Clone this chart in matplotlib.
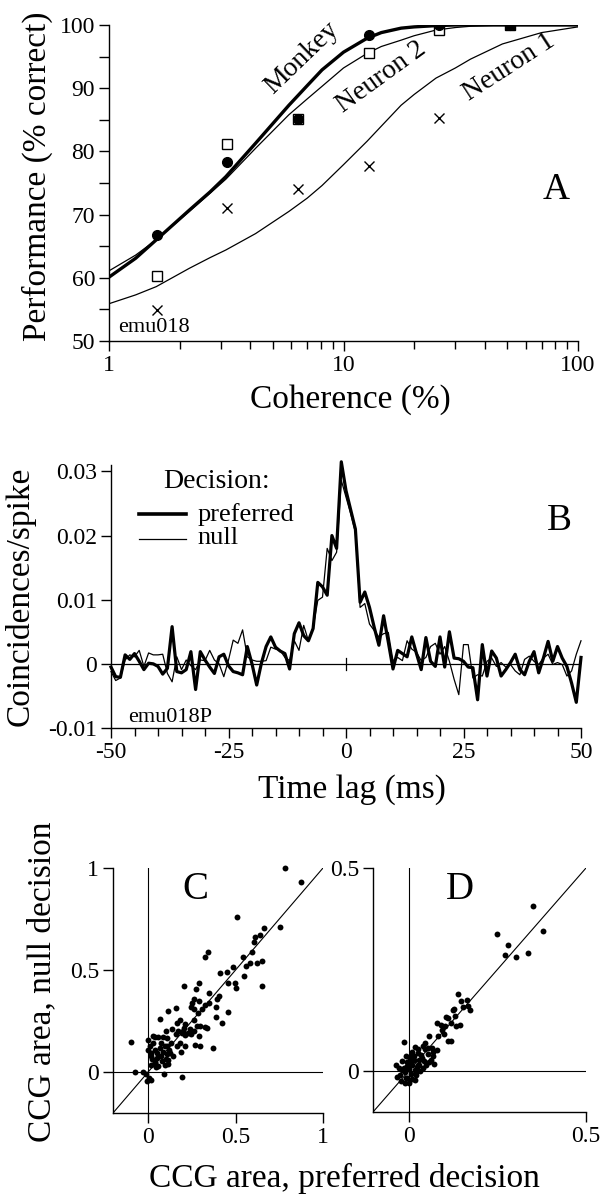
import matplotlib
matplotlib.use("Agg")
import matplotlib.pyplot as plt

plt.rcParams['font.family'] = ['Liberation Serif', 'DejaVu Serif']
plt.rcParams['axes.linewidth'] = 1.0

# ---------------- Panel A data ----------------
coherence = [1.6, 3.2, 6.4, 12.8, 25.6, 51.2]
monkey_pts = [66.8, 78.4, 85.1, 98.4, 100.0, 100.0]
neuron2_pts = [60.3, 81.2, 85.1, 95.6, 99.2, 100.0]
neuron1_pts = [54.9, 71.1, 74.0, 77.7, 85.3, 100.0]

curve_c = [1, 1.3, 1.59, 2.2, 2.7, 3.15, 4.22, 5.85, 7.0, 8.1, 10, 12.6, 14.5, 17.6, 20, 24.8, 30, 34.8, 47.6, 70, 100]
monkey_fit = [60.1, 63.1, 66.0, 70.7, 73.6, 76.0, 81.3, 87.3, 90.4, 92.9, 95.7, 97.9, 98.8, 99.5, 99.7, 99.9, 100, 100, 100, 100, 100]
neuron2_fit = [61.1, 63.6, 66.0, 70.5, 73.4, 75.6, 80.5, 85.8, 88.3, 90.3, 93.2, 95.5, 96.6, 97.6, 98.3, 99.2, 99.6, 99.8, 100, 100, 100]
neuron1_fit = [55.9, 57.3, 58.6, 61.5, 63.2, 64.4, 67.0, 70.5, 72.6, 74.6, 77.9, 81.6, 84.0, 87.3, 89.0, 91.6, 93.2, 94.6, 97.0, 98.8, 99.7]

# ---------------- Panel B data ----------------
lags = list(range(-50, 51))
ccg_preferred = [
    -0.0005, -0.0020, -0.0021, 0.0014, 0.0007, 0.0016, 0.0004, -0.0009, 0.0001, 0.0000,
    -0.0004, -0.0016, -0.0007, 0.0058, -0.0012, -0.0014, -0.0009, 0.0019, -0.0040, 0.0019,
    0.0006, -0.0005, -0.0015, 0.0011, 0.0015, -0.0003, -0.0012, -0.0014, -0.0017, 0.0027,
    0.0000, -0.0033, 0.0001, 0.0027, 0.0042, 0.0026, 0.0020, 0.0016, -0.0008, 0.0047,
    0.0064, 0.0044, 0.0036, 0.0055, 0.0127, 0.0120, 0.0107, 0.0200, 0.0180, 0.0315,
    0.0270, 0.0240, 0.0210, 0.0096, 0.0112, 0.0088, 0.0057, 0.0029, 0.0075, 0.0034,
    -0.0008, 0.0021, 0.0016, 0.0011, 0.0042, 0.0016, -0.0009, 0.0041, 0.0004, -0.0004,
    0.0042, -0.0005, 0.0050, 0.0009, 0.0008, 0.0004, -0.0005, -0.0006, -0.0056, 0.0030,
    -0.0019, 0.0020, 0.0009, -0.0019, -0.0009, 0.0002, 0.0015, -0.0009, -0.0017, 0.0004,
    0.0019, -0.0014, 0.0009, 0.0035, 0.0004, 0.0027, 0.0009, -0.0004, -0.0030, -0.0060,
    0.0010]
ccg_null = [
    -0.0012, -0.0026, -0.0022, 0.0006, 0.0014, 0.0011, 0.0021, -0.0004, 0.0017, 0.0014,
    0.0014, 0.0015, -0.0015, -0.0028, 0.0011, -0.0009, 0.0006, -0.0003, -0.0009, 0.0006,
    0.0005, 0.0021, 0.0006, 0.0000, -0.0020, 0.0006, 0.0037, 0.0032, 0.0053, 0.0011,
    0.0006, 0.0004, 0.0004, 0.0005, 0.0026, 0.0023, 0.0021, 0.0010, 0.0005, 0.0036,
    0.0021, 0.0060, 0.0036, 0.0057, 0.0099, 0.0104, 0.0180, 0.0161, 0.0174, 0.0286,
    0.0260, 0.0234, 0.0205, 0.0088, 0.0094, 0.0062, 0.0052, 0.0042, 0.0047, 0.0049,
    0.0005, 0.0010, 0.0005, 0.0036, 0.0023, 0.0018, 0.0005, 0.0010, 0.0027, 0.0032,
    0.0015, 0.0027, 0.0004, -0.0024, -0.0048, 0.0030, 0.0030, -0.0022, -0.0017, -0.0019,
    0.0004, 0.0009, -0.0004, 0.0002, -0.0005, -0.0001, -0.0011, -0.0017, 0.0007, 0.0012,
    0.0004, -0.0001, 0.0009, 0.0015, -0.0001, 0.0002, -0.0001, -0.0019, -0.0011, 0.0015,
    0.0036]

# ---------------- Panel C data ----------------
c_pref = [0.78, 0.873, 0.507, 0.757, 0.661, 0.613, 0.642, 0.603, 0.343, 0.324,
          0.593, 0.54, 0.651, 0.582, 0.62, 0.487, 0.41, 0.549, 0.459, 0.495,
          0.651, 0.505, 0.289, 0.206, 0.275, 0.347, 0.264, 0.395, 0.25, 0.328,
          0.245, 0.389, 0.347, 0.308, 0.158, 0.116, 0.459, 0.389, 0.285, 0.067,
          0.183, 0.264, 0.424, 0.299, 0.328, 0.168, 0.208, 0.241, 0.135, 0.10,
          0.193, 0.231, 0.212, 0.247, 0.16, 0.039, 0.058, 0.087, 0.27, 0.295,
          0.372, 0.212, 0.131, 0.119, 0.096, 0.0, 0.029, -0.096, 0.0, 0.019,
          0.039, 0.067, 0.087, 0.106, 0.125, 0.145, 0.189, 0.023, 0.054, 0.081,
          0.10, 0.039, 0.019, 0.048, 0.096, 0.116, -0.077, -0.029, -0.01, 0.004,
          0.015, -0.004, 0.092, 0.197, 0.01, 0.029, 0.077, 0.106, 0.173, 0.212,
          0.202, 0.26, 0.279, 0.019, 0.054, 0.077, 0.116, 0.039, 0.26, 0.289,
          0.183, 0.164, 0.289, 0.337, 0.106, 0.058, 0.559, 0.453, 0.405]
c_null = [1.0, 0.93, 0.76, 0.71, 0.707, 0.66, 0.67, 0.636, 0.59, 0.562,
          0.587, 0.562, 0.546, 0.534, 0.533, 0.513, 0.485, 0.469, 0.439, 0.436,
          0.423, 0.41, 0.439, 0.423, 0.407, 0.39, 0.357, 0.357, 0.341, 0.328,
          0.32, 0.321, 0.338, 0.308, 0.313, 0.30, 0.295, 0.272, 0.289, 0.262,
          0.256, 0.256, 0.243, 0.226, 0.221, 0.239, 0.218, 0.213, 0.213, 0.202,
          0.193, 0.193, 0.18, 0.185, 0.185, 0.174, 0.174, 0.174, 0.131, 0.128,
          0.12, 0.128, 0.144, 0.111, 0.128, 0.156, 0.144, 0.148, 0.111, 0.095,
          0.108, 0.12, 0.098, 0.087, 0.092, 0.079, 0.098, 0.066, 0.07, 0.054,
          0.066, 0.043, 0.033, 0.026, 0.033, 0.038, 0.003, 0.003, -0.011, -0.028,
          -0.039, -0.044, -0.007, -0.023, 0.128, 0.177, 0.144, 0.169, 0.202, 0.234,
          0.202, 0.202, 0.226, 0.079, 0.095, 0.079, 0.062, 0.051, 0.308, 0.349,
          0.144, 0.128, 0.177, 0.218, 0.128, 0.03, 0.521, 0.489, 0.374]

# ---------------- Panel D data ----------------
d_pref = [0.351, 0.38, 0.25, 0.281, 0.273, 0.304, 0.337, 0.14, 0.148, 0.164,
          0.129, 0.154, 0.172, 0.105, 0.132, 0.081, 0.092, 0.119, 0.145, 0.135,
          0.095, 0.10, 0.057, 0.11, 0.119, -0.014, 0.018, 0.04, 0.047, 0.066,
          0.009, 0.026, 0.035, 0.054, 0.069, 0.005, 0.016, 0.03, 0.045, 0.059,
          -0.017, 0.071, -0.034, -0.005, 0.011, 0.024, 0.04, 0.002, 0.018, 0.033,
          -0.01, 0.007, -0.024, 0.021, -0.031, -0.008, 0.011, -0.022, -0.01, 0.002,
          0.018, 0.021, 0.026, 0.011, -0.003, -0.014, 0.047, 0.056, 0.08, 0.069,
          0.037, 0.05, 0.028, 0.007, 0.03, -0.005, -0.017, 0.016, -0.027, -0.008,
          0.062, 0.083, 0.169, 0.126, 0.102, 0.111]
d_null = [0.407, 0.344, 0.338, 0.31, 0.285, 0.281, 0.291, 0.191, 0.172, 0.176,
          0.154, 0.158, 0.15, 0.134, 0.136, 0.118, 0.114, 0.119, 0.115, 0.111,
          0.101, 0.093, 0.088, 0.074, 0.074, 0.073, 0.06, 0.062, 0.054, 0.058,
          0.047, 0.044, 0.039, 0.042, 0.038, 0.031, 0.029, 0.027, 0.025, 0.023,
          0.025, 0.017, 0.015, 0.013, 0.015, 0.011, 0.009, 0.005, 0.003, 0.001,
          -0.002, -0.007, -0.01, -0.01, -0.013, -0.016, -0.02, -0.024, -0.029, -0.028,
          -0.021, -0.001, 0.015, 0.039, 0.023, 0.007, 0.07, 0.058, 0.052, 0.048,
          0.033, 0.015, 0.056, 0.017, 0.015, -0.016, 0.003, 0.038, 0.009, 0.038,
          0.029, 0.088, 0.16, 0.152, 0.111, 0.132]

W, H = 608, 1199
fig = plt.figure(figsize=(W / 100, H / 100), dpi=100)


def rect(x0, x1, y_top, y_bot):
    return [x0 / W, 1 - y_bot / H, (x1 - x0) / W, (y_bot - y_top) / H]


def ptext(x, y, s, **kw):
    fig.text(x / W, 1 - y / H, s, **kw)


def style(ax, fs=17):
    for s in ('top', 'right'):
        ax.spines[s].set_visible(False)
    ax.tick_params(which='both', direction='out', width=1.0, labelsize=fs, pad=3)
    ax.tick_params(which='major', length=7)
    ax.tick_params(which='minor', length=6)


# ---------------- Panel A ----------------
axA = fig.add_axes(rect(109, 578, 25, 341))
axA.set_xscale('log')
axA.plot(curve_c, monkey_fit, color='black', lw=2.4, solid_joinstyle='round')
axA.plot(curve_c, neuron2_fit, color='black', lw=0.9)
axA.plot(curve_c, neuron1_fit, color='black', lw=0.9)
axA.plot(coherence, neuron2_pts, ls='none', marker='s', ms=7, mfc='white', mec='black', mew=1.0)
axA.plot(coherence, monkey_pts, ls='none', marker='o', ms=7, mfc='black', mec='black')
axA.plot(coherence, neuron1_pts, ls='none', marker='x', ms=7, color='black', mew=1.0)
axA.set_xlim(1, 100)
axA.set_ylim(50, 100)
axA.set_xticks([1, 10, 100])
axA.set_xticklabels(['1', '10', '100'])
axA.set_yticks([50, 60, 70, 80, 90, 100])
axA.set_yticks([55, 65, 75, 85, 95], minor=True)
style(axA)
axA.tick_params(axis='y', which='minor', length=7)

ptext(302, 58, 'Monkey', fontsize=20, rotation=44, ha='center', va='center')
ptext(381, 77, 'Neuron 2', fontsize=20, rotation=36, ha='center', va='center')
ptext(509, 67, 'Neuron 1', fontsize=20, rotation=33, ha='center', va='center')
axA.text(1.09, 52.2, 'emu018', fontsize=16, ha='left', va='center')
axA.text(81, 74, 'A', fontsize=27, ha='center', va='center')

ptext(37, 176, 'Performance (% correct)', fontsize=24, rotation=90, ha='center', va='center')
ptext(350, 400, 'Coherence (%)', fontsize=24, ha='center', va='center')

# ---------------- Panel B ----------------
axB = fig.add_axes(rect(111, 581, 465, 728))
axB.axhline(0, color='black', lw=0.9)
axB.plot([0, 0], [-0.0009, 0.0009], color='black', lw=0.9)
axB.plot(lags, ccg_null, color='black', lw=0.9, clip_on=False)
axB.plot(lags, ccg_preferred, color='black', lw=2.3, clip_on=False)
axB.set_xlim(-50, 50)
axB.set_ylim(-0.01, 0.031)
axB.set_xticks([-50, -25, 0, 25, 50])
axB.set_xticklabels(['-50', '-25', '0', '25', '50'])
axB.set_xticks(list(range(-45, 50, 5)), minor=True)
axB.set_yticks([-0.01, 0, 0.01, 0.02, 0.03])
axB.set_yticklabels(['-0.01', '0', '0.01', '0.02', '0.03'])
style(axB)
axB.tick_params(axis='x', which='minor', length=6)
axB.text(-38.9, 0.02734, 'Decision:', fontsize=20, ha='left', va='baseline')
axB.plot([-44.0, -34.0], [0.0233, 0.0233], color='black', lw=2.6)
axB.plot([-44.0, -34.0], [0.0195, 0.0195], color='black', lw=0.9)
axB.text(-31.5, 0.0222, 'preferred', fontsize=19, ha='left', va='baseline')
axB.text(-31.5, 0.01863, 'null', fontsize=19, ha='left', va='baseline')
axB.text(45.3, 0.0223, 'B', fontsize=27, ha='center', va='center')
axB.text(-46.4, -0.0084, 'emu018P', fontsize=16, ha='left', va='center')

ptext(20, 596, 'Coincidences/spike', fontsize=24, rotation=90, ha='center', va='center')
ptext(352, 790, 'Time lag (ms)', fontsize=24, ha='center', va='center')

# ---------------- Panel C ----------------
axC = fig.add_axes(rect(113, 323, 868, 1113))
axC.plot([-0.2, 1], [-0.2, 1], color='black', lw=0.8)
axC.plot([0, 0], [-0.2, 1], color='black', lw=0.8)
axC.plot([-0.2, 1], [0, 0], color='black', lw=0.8)
axC.scatter(c_pref, c_null, s=18, color='black', zorder=3, linewidths=0, clip_on=False)
axC.set_xlim(-0.2, 1)
axC.set_ylim(-0.2, 1)
axC.set_xticks([0, 0.5, 1])
axC.set_xticklabels(['0', '0.5', '1'])
axC.set_yticks([0, 0.5, 1])
axC.set_yticklabels(['0', '0.5', '1'])
style(axC)
axC.text(0.27, 0.894, 'C', fontsize=28, ha='center', va='center')

# ---------------- Panel D ----------------
axD = fig.add_axes(rect(373, 586, 868, 1112))
axD.plot([-0.1, 0.5], [-0.1, 0.5], color='black', lw=0.8)
axD.plot([0, 0], [-0.1, 0.5], color='black', lw=0.8)
axD.plot([-0.1, 0.5], [0, 0], color='black', lw=0.8)
axD.scatter(d_pref, d_null, s=18, color='black', zorder=3, linewidths=0)
axD.set_xlim(-0.1, 0.5)
axD.set_ylim(-0.1, 0.5)
axD.set_xticks([0, 0.5])
axD.set_xticklabels(['0', '0.5'])
axD.set_yticks([0, 0.5])
axD.set_yticklabels(['0', '0.5'])
style(axD)
axD.text(0.145, 0.447, 'D', fontsize=28, ha='center', va='center')

ptext(42, 982, 'CCG area, null decision', fontsize=24, rotation=90, ha='center', va='center')
ptext(344, 1178, 'CCG area, preferred decision', fontsize=24, ha='center', va='center')

fig.savefig('out.png', dpi=100, facecolor='white')
